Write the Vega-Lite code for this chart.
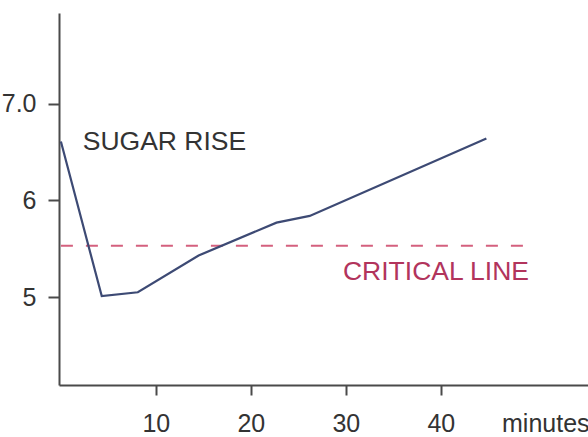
{
  "$schema": "https://vega.github.io/schema/vega-lite/v6.json",
  "width": 529,
  "height": 372,
  "autosize": {"type": "none"},
  "padding": {"left": 59, "top": 13, "right": 0, "bottom": 52},
  "background": "white",
  "config": {
    "view": {"stroke": null},
    "font": "Liberation Sans",
    "axis": {
      "grid": false,
      "domainColor": "#4a4a4a",
      "domainWidth": 2,
      "tickColor": "#4a4a4a",
      "tickWidth": 2,
      "labelColor": "#333333",
      "labelFont": "Liberation Sans",
      "labelFontSize": 25,
      "title": null
    }
  },
  "datasets": {
    "sugar": [
      {"minute": 0, "level": 6.61},
      {"minute": 4.3, "level": 5.01},
      {"minute": 8.1, "level": 5.05},
      {"minute": 14.5, "level": 5.43},
      {"minute": 22.7, "level": 5.77},
      {"minute": 26.2, "level": 5.84},
      {"minute": 44.8, "level": 6.64}
    ],
    "critical": [
      {"minute": 0, "level": 5.53},
      {"minute": 49.1, "level": 5.53}
    ],
    "notes": [
      {"minute": 2.3, "level": 6.6, "text": "SUGAR RISE", "kind": "sugar"},
      {"minute": 29.7, "level": 5.26, "text": "CRITICAL LINE", "kind": "critical"}
    ]
  },
  "layer": [
    {
      "data": {"name": "critical"},
      "mark": {"type": "line", "color": "#d4607e", "strokeWidth": 2, "strokeDash": [12, 13]},
      "encoding": {
        "x": {"field": "minute", "type": "quantitative", "scale": {"domain": [-0.2, 55.5], "nice": false, "zero": false},
          "axis": {
            "values": [10, 20, 30, 40, 51],
            "labelExpr": "datum.value == 51 ? 'minutes' : format(datum.value, 'd')",
            "tickSize": 10,
            "labelPadding": 16,
            "labelOverlap": false,
            "labelBound": false,
            "labelFlush": false,
            "tickOpacity": {"condition": {"test": "datum.value == 51", "value": 0}, "value": 1}
          }},
        "y": {"field": "level", "type": "quantitative", "scale": {"domain": [4.09, 7.94], "nice": false, "zero": false},
          "axis": {
            "values": [5, 6, 7],
            "labelExpr": "datum.value == 7 ? '7.0' : format(datum.value, 'd')",
            "tickSize": 11,
            "labelPadding": 12,
            "labelOverlap": false,
            "labelBound": false
          }}
      }
    },
    {
      "data": {"name": "sugar"},
      "mark": {"type": "line", "color": "#3d4a74", "strokeWidth": 2.2},
      "encoding": {
        "x": {"field": "minute", "type": "quantitative"},
        "y": {"field": "level", "type": "quantitative"}
      }
    },
    {
      "data": {"name": "notes"},
      "mark": {"type": "text", "align": "left", "baseline": "middle", "fontSize": 26.5, "font": "Liberation Sans"},
      "encoding": {
        "x": {"field": "minute", "type": "quantitative"},
        "y": {"field": "level", "type": "quantitative"},
        "text": {"field": "text"},
        "color": {"field": "kind", "type": "nominal", "scale": {"domain": ["sugar", "critical"], "range": ["#333333", "#b2345c"]}, "legend": null}
      }
    }
  ]
}
